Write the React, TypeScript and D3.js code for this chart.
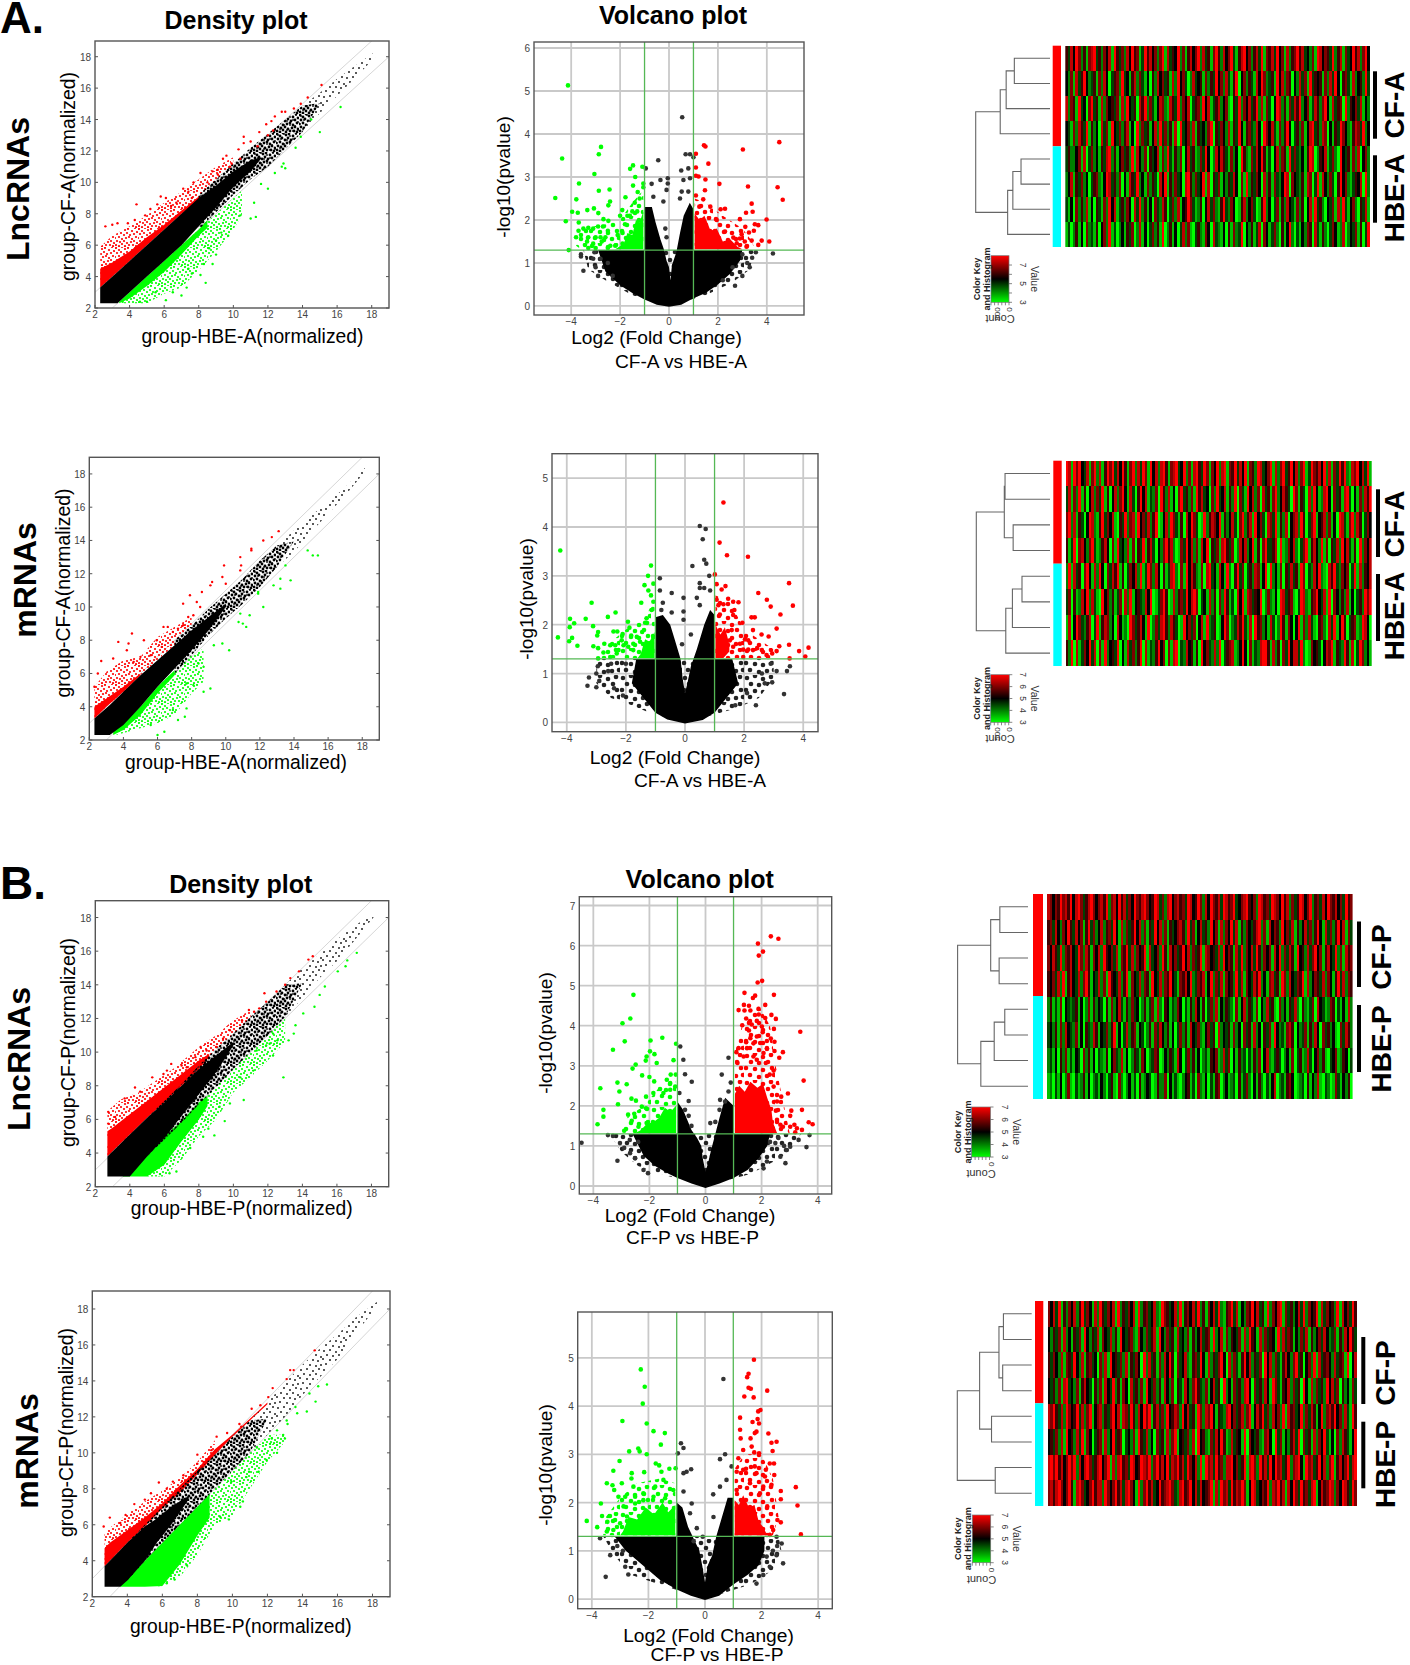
import React from 'react';
import * as d3 from 'd3';

type Pt = [number, number];
type Band = [number, number, number]; // x, low y, high y

const DENSITY_TICKS = [2, 4, 6, 8, 10, 12, 14, 16, 18];
const VOLCANO_X_TICKS = [-4, -2, 0, 2, 4];

// ---- density plots: dense regions read as envelopes, outliers read one by one
const d1BlackCore: Band[] = [[2.3,2.3,3.3],[3.3,2.3,4.3],[4,3,5],[5,4,6],[6,5,7],[7,6,8],[8,7.2,9],[9,8.4,9.8],[10,9.7,10.7],[11,10.7,11.4],[11.6,11.5,11.6]];
const d1BlackTail: Band[] = [[8,7,9.2],[9,8.1,10.2],[10,9.2,11.2],[11,10.2,12.2],[12,11,13.1],[13,12.1,14],[14,13.2,14.9],[15,14.4,15.7],[16,15.5,16.6],[17,16.6,17.4],[18.3,18.1,18.4]];
const d1RedDense: Band[] = [[2.3,3.3,4.5],[3,4,4.9],[4,5,5.6],[5,6,6.5],[6,7,7.3],[7,8,8.2],[8,8.9,9.1]];
const d1RedSparse: Band[] = [[2.3,3.3,5.9],[3,4,6.6],[4,5,7.2],[5,6,7.9],[6,7,8.7],[7,8,9.4],[8,8.9,10.2],[9,9.7,11],[10,10.9,11.6]];
const d1GreenDense: Band[] = [[3.4,2.3,2.4],[4,2.6,3],[5,3.4,4],[6,4.3,5],[7,5.4,6],[8,6.6,7],[8.5,7.1,7.6]];
const d1GreenSparse: Band[] = [[3.5,2.3,2.4],[5,2.3,4],[6,2.9,5],[7,3.3,6],[8,4.4,7],[9,5.6,8],[10,7,9],[10.5,7.9,9.5]];
const d1RedPts: Pt[] = [[2.6,7.2],[3,7.3],[3.3,7.4],[3.9,7.4],[4.3,7.6],[4.4,8.6],[4.9,7.9],[5.2,8.3],[5.6,8.6],[5.8,9.1],[6.1,9],[6.4,8.5],[6.7,8.7],[7.1,9.6],[7.4,9.4],[7.6,9],[7.7,10],[8.1,10.6],[8.5,10],[8.8,10.7],[9.1,10.5],[9.4,11.5],[9.6,11.7],[9.9,11.2],[10.3,12.1],[10.6,12.5],[10.6,12.9],[11,12.6],[11.5,13.2],[11.9,13.7],[12.2,13.9],[12.4,14.2],[12.8,14.5],[13,14.5],[13.5,14.7],[13.9,15],[14.3,15.4],[15.1,16.2],[9.1,10.8],[9.8,11],[10.4,11.5],[11.4,12.3],[12,13],[12.3,13.3]];
const d1GreenPts: Pt[] = [[3.6,2.4],[4.6,2.4],[5,2.4],[5.5,3],[6.1,2.5],[6.5,3],[7,2.8],[7.3,3.3],[7.4,4.5],[7.6,4.2],[8.4,3.6],[8.1,4.1],[8.3,4.8],[8.8,4.8],[9,5.4],[8.6,5.8],[9,6.3],[9.7,6.6],[9.3,6.8],[10.4,7.9],[11,7.7],[11.2,8.7],[11.3,7.8],[12,9.6],[11.6,9.9],[12.8,11],[12.9,11.2],[13.6,12.2],[13.9,12.9],[15,13.2],[14.5,14],[16.2,14.8],[13,10.9],[12.4,10.6]];

const d2BlackCore: Band[] = [[2.3,2.3,3.3],[3.2,2.3,4.1],[4,2.9,4.9],[5,4,5.9],[6,5.2,6.8],[7,6.3,7.7],[8,7.4,8.6],[9,8.6,9.4],[10,10,10.2]];
const d2BlackTail: Band[] = [[7,6,8],[8,7.1,8.9],[9,8.3,9.9],[10,9.3,10.8],[11,10.2,11.7],[12,11.2,12.8],[13,12.4,13.7],[14,13.3,14.6],[15,14.5,15.5],[16,15.6,16.3],[17,16.7,17.2],[18.3,18.3,18.5]];
const d2RedDense: Band[] = [[2.3,3.3,4],[3,4,4.5],[4,4.9,5.2],[5,5.9,6]];
const d2RedSparse: Band[] = [[2.3,3.3,5.2],[3,4,6.1],[4,4.9,6.8],[5,5.9,7],[6,6.8,8.2],[7,7.7,8.8],[8,8.6,9.4]];
const d2GreenDense: Band[] = [[3.4,2.3,2.5],[4,2.6,3],[5,3.5,4],[6,4.8,5.2],[7,5.9,6.2]];
const d2GreenSparse: Band[] = [[3.6,2.3,2.5],[5,2.7,4],[6,3,5.2],[7,3.5,6.2],[8,4.8,7.1],[8.7,5.5,7.5]];
const d2RedPts: Pt[] = [[13.1,14.56],[12.7,14.2],[12.2,14],[11.5,13.5],[10.85,13],[10.9,12.5],[9.9,12.5],[9.8,11.8],[9.2,11.5],[9.1,11.3],[10,11.4],[8.6,10.9],[7.9,10.7],[7.5,10.2],[8.3,10.3],[8.5,10],[6.35,8.8],[6.6,8.8],[7.2,8.7],[7.5,8.9],[4.5,8.4],[5.2,8],[3.7,7.9],[4.3,7.8],[2.7,6.75],[3.4,6.9],[5.95,8],[6.25,7.6],[6.9,8.5],[7.8,9.4],[8.1,9.5],[10.85,12.2],[11.5,13.4],[2.5,6],[2.3,5.2],[4.2,7.4],[4.6,6.7],[5,7],[5.6,7.1]];
const d2GreenPts: Pt[] = [[14.8,13.4],[15.1,13.1],[15.4,13.1],[13.8,11.6],[13.2,11.7],[12.8,11.3],[13.2,11.1],[13.5,12.5],[11.9,10.9],[12.2,10],[11.4,9.5],[11.2,8.8],[11,9],[10.75,9.1],[10.2,7.4],[9.8,7.8],[9.1,5.1],[8.7,4.9],[7.7,3.9],[7.6,3.4],[7.2,3.2],[6.4,2.5],[6,2.3],[8.1,5.3],[8.7,6.4],[8.4,6.6],[9.3,7.7],[10.85,9.6],[11.9,10.8],[6.9,3.8],[5.6,2.9],[5.4,4.2],[7.7,5.4]];

const d3BlackCore: Band[] = [[2.7,2.6,3.8],[3.7,2.6,4.8],[4,2.6,5.1],[5,3.8,6.1],[6,4.9,7],[7,6.2,8],[8,7.5,9],[9,8.8,9.8],[10,10.4,10.6]];
const d3BlackTail: Band[] = [[5,3.8,6.1],[6,4.8,7.1],[7,5.8,8.1],[8,6.9,9.2],[9,7.9,10.2],[10,9,11.1],[11,10,12.1],[12,11,13],[13,12.1,14],[14,13.2,15],[15,14.4,15.8],[16,15.4,16.7],[17,16.6,17.5],[18.2,18.1,18.3]];
const d3RedDense: Band[] = [[2.7,3.8,5.3],[3,4.1,5.5],[4,5.1,6.3],[5,6.1,7.1],[6,7,7.9],[7,8,8.7],[8,9,9.5],[8.6,9.7,9.9]];
const d3RedSparse: Band[] = [[2.7,3.8,6.5],[3.5,4.6,7.2],[4.5,5.6,7.6],[5.5,6.6,8.3],[6.5,7.6,9],[8,9,10.3],[9,10.2,11],[10,11,11.9],[11,12,12.5]];
const d3GreenDense: Band[] = [[3.6,2.6,2.7],[4,2.6,3.1],[5,2.6,3.9],[6,3.3,5],[7,4.7,5.9],[8,6,7],[8.5,6.8,7.4]];
const d3GreenSparse: Band[] = [[5,2.6,3.9],[6,2.6,4.9],[7,3.6,5.8],[8,5,7],[9,6,8],[10,7.6,9],[11,8.5,10.1],[12,9.5,11.1],[13,10.6,12]];
const d3RedPts: Pt[] = [[14.6,15.7],[14.35,15.5],[13.8,14.8],[13.3,14.4],[13,14],[12.5,13.6],[11.8,13.5],[11.9,13],[11.5,12.6],[10.9,12.5],[10.5,11.9],[9.8,11.3],[9.4,10.8],[8.1,10.3],[7.8,9.7],[6.4,9.3],[7,9.2],[5.3,8.5],[4.3,7.9],[3.7,7.25],[2.75,6.45],[2.75,5.75],[5.95,8.7],[4.6,7.65],[3.15,6.15],[7.3,9.1],[8.45,10.1],[9,10.3],[11.2,12.4],[6.15,8.9]];
const d3GreenPts: Pt[] = [[17.15,15.9],[16.6,15.45],[16.5,15.1],[16.05,14.8],[15.3,13.9],[15,13.4],[14.7,12.7],[14.05,12.3],[13.6,11.6],[13.5,11.1],[12.9,8.5],[13.2,10.7],[12.3,11.1],[12.55,10.7],[12.1,10.5],[11.9,10.4],[12.3,9.8],[11.35,10.1],[10.6,7.15],[9.5,5.9],[8.9,5.05],[8.25,4.97],[8.55,5.45],[7.5,4.3],[6.7,2.9],[6.3,2.8],[5.75,2.75],[11.15,8.9],[10.4,8.5],[9.8,6.95],[9.2,6.75]];

const d4BlackCore: Band[] = [[2.7,2.55,3.7],[3.6,2.55,4.6],[4,2.9,5],[5,4,5.9],[5.6,4.9,6.3],[6.5,6,7],[7.5,7.4,7.6]];
const d4BlackTail: Band[] = [[4,2.9,5],[5,4,6],[6,5,7],[7,6,8],[8,7,9],[9,8,9.9],[10,9,10.9],[11,10,11.8],[12,11,12.8],[13,12,13.9],[14,13.2,14.9],[15,14.2,15.8],[16,15.2,16.6],[17,16.6,17.5],[18.4,18.3,18.5]];
const d4RedDense: Band[] = [[2.7,3.7,4.7],[3,4,5],[4,5,5.7],[5,5.9,6.4],[6,6.9,7.2],[7,7.8,8.2],[8,8.8,9.1],[9,9.9,10.2],[10,10.9,11],[11,11.8,11.9],[12,12.7,12.8]];
const d4RedSparse: Band[] = [[2.7,3.7,5.6],[4,5,6.6],[5,5.9,7.3],[6,6.9,7.9],[7,7.8,8.6],[8,8.8,9.5],[9,9.9,10.7]];
const d4GreenDense: Band[] = [[3.6,2.55,2.7],[4,2.55,3],[5,2.55,4],[6,2.6,5],[7,3.8,6],[8,5.4,7],[8.7,6.4,7.7]];
const d4GreenSparse: Band[] = [[5.5,2.55,4.5],[6,2.6,5],[7,3.1,6],[8,4.3,7],[9,6,8],[10,6.5,9],[11,8,10],[12,9.5,11],[13,10.6,11]];
const d4RedPts: Pt[] = [[14.7,15.7],[13.5,14.6],[13.3,14.6],[13.1,14.1],[12.3,13.6],[12.05,13.1],[11.6,12.65],[11.1,12.45],[10.4,11.6],[9.7,11.1],[9.1,10.9],[8,9.9],[8,9.4],[5.8,8.35],[7.2,8.75],[5.35,7.75],[5,7.4],[4.4,7.15],[3,6.4],[2.65,5.9],[3.6,6.1],[3.9,6.55],[8.35,9.5],[8.8,10.15],[6.6,8.4],[10.5,11.45],[6.25,8]];
const d4GreenPts: Pt[] = [[15.4,13.8],[14.9,13.7],[14.4,13.3],[14.75,12.85],[14.25,12.3],[13.7,12.2],[13.6,12.55],[13.1,11.8],[13.15,11.6],[12.9,11],[13,10.8],[12.55,11.25],[12.25,10.8],[12.55,10],[12.15,10.5],[11.95,9.6],[11.5,8.95],[10.95,8.95],[10.6,7.3],[10.45,7],[9.8,6.3],[9.3,6.45],[7.4,3.75],[6.25,2.75],[6.7,2.95],[11.4,10.3],[10.8,8.65],[9.95,8.4]];

// ---- volcano plots
const v1Black: Pt[] = [[-2.9,1.3],[-2.6,.8],[-2,.48],[-1.5,.3],[-1,.15],[-.5,.03],[0,-.02],[.5,.03],[1,.18],[1.5,.3],[2,.5],[2.5,.75],[2.9,1.05],[3,1.3],[1,1.3],[1,2.25],[.85,2.4],[.6,2.1],[.45,1.7],[.3,1.25],[.12,.95],[.06,.6],[0,.9],[-.1,1.05],[-.2,1.3],[-.35,1.55],[-.55,1.95],[-.7,2.3],[-1,2.3],[-1,1.3]];
const v1BlackFringe: Pt[] = [[-3.5,1.3],[-3.3,.85],[-2.6,.6],[-1.5,.25],[0,0],[1.5,.25],[2.6,.55],[3.3,.85],[3.5,1.3]];
const v1RedDense: Pt[] = [[1.05,1.32],[1.05,2.15],[1.25,2],[1.45,2.1],[1.7,1.75],[1.95,1.8],[2.2,1.5],[2.5,1.55],[2.8,1.38],[3,1.32]];
const v1GreenDense: Pt[] = [[-1.05,1.32],[-1.05,2.2],[-1.2,1.95],[-1.35,2],[-1.5,1.65],[-1.7,1.7],[-1.85,1.45],[-2.2,1.32]];
const v1RedCloud: Pt[] = [[1.05,1.32],[1.05,2.5],[1.5,2.4],[2.2,2.1],[3,1.8],[3.4,1.5],[3.5,1.32]];
const v1GreenCloud: Pt[] = [[-1.05,1.32],[-1.05,2.7],[-1.5,2.4],[-2,2],[-2.6,1.9],[-3.6,1.8],[-3.8,1.4],[-3.6,1.32]];
const v1RedPts: Pt[] = [[4.51,3.81],[3.02,3.64],[1.43,3.74],[1.49,3.71],[1.61,3.31],[1.1,3.54],[1.1,3.22],[1.1,3.03],[1.21,3.01],[1.49,2.94],[2.06,2.84],[3.23,2.78],[4.44,2.76],[4.65,2.47],[1.47,2.69],[1.1,2.57],[1.4,2.48],[3.38,2.38],[2.29,2.26],[2.11,2.25],[3.15,2.17],[3.42,2.19],[1.69,2.31],[1.24,2.31],[2.9,2.02],[3.99,2.01],[1.95,2],[3.12,1.84],[3.51,1.9],[3.65,1.88],[2.29,1.73],[3.27,1.71],[3.47,1.75],[2.97,1.67],[3.79,1.52],[4.1,1.5],[3.65,1.42],[3.38,1.52],[2.63,1.59],[2.9,1.57],[3.1,1.5],[3.17,1.38],[2.77,1.46],[2.49,1.42]];
const v1GreenPts: Pt[] = [[-4.13,5.13],[-4.37,3.43],[-2.78,3.7],[-2.87,3.53],[-3.05,3.07],[-3.68,2.85],[-4.65,2.51],[-3.79,2.48],[-2.87,2.68],[-2.43,2.71],[-2.41,2.43],[-2.48,2.34],[-3.96,2.19],[-3.73,2.17],[-3.34,2.23],[-3.07,2.27],[-2.89,2.16],[-4.22,1.97],[-3.69,1.94],[-2.68,2.02],[-2.48,1.98],[-1.78,2.53],[-1.91,2.23],[-1.47,3.27],[-1.09,3.24],[-1.59,3.19],[-1.38,3],[-1.47,2.8],[-1.05,2.85],[-1.28,2.65],[-1.05,2.76],[-4.1,1.3],[-3.7,1.75],[-3.5,1.8],[-3.3,1.82],[-3.1,1.8],[-2.9,1.85],[-2.7,1.85],[-2.5,1.75],[-3.8,1.6],[-3.6,1.65],[-3.3,1.6],[-3,1.6],[-2.8,1.6],[-2.6,1.6],[-3.35,1.5],[-3.1,1.45],[-2.75,1.5],[-3.3,1.35],[-3,1.35],[-2.4,1.4],[-2.1,1.65],[-2.2,1.4],[-1.9,1.7],[-1.8,1.9],[-2,2.1],[-1.7,2.1],[-1.5,2.2],[-1.6,2.1],[-1.3,2.2],[-1.4,2.4],[-1.2,2.5],[-1.7,1.5],[-1.9,1.45],[-2.5,1.35]];
const v1BlackPts: Pt[] = [[.54,4.39],[-.44,3.39],[.68,3.53],[.86,3.53],[.5,3.15],[.79,3.2],[1,3.46],[-.95,3.2],[-.05,2.97],[-.35,2.93],[.59,2.93],[.86,2.97],[-.05,2.85],[-.71,2.84],[-.1,2.7],[.52,2.66],[.79,2.66],[-.64,2.54],[-.23,2.43],[.45,2.5],[-3.6,1.2],[-3.6,1.15],[-3.5,.82],[-3.1,1.1],[-3,.9],[-2.9,.7],[-3.05,1.25],[-2.8,1.1],[-2.5,1],[4.25,1.22],[3.4,1.12],[2.7,.47],[3,.7],[3.3,.9],[3.55,1.25],[3.2,1],[3,1.2],[2.6,.9],[2.2,.6],[-2.3,.7],[-.15,1.8],[-.1,1.6]];

const v2Black: Pt[] = [[-1.65,1.3],[-1.8,.8],[-1.4,.5],[-1,.2],[-.6,.06],[0,-.02],[.6,.05],[1,.2],[1.4,.5],[1.8,.8],[1.6,1.3],[1,1.3],[1,2.2],[.85,2.3],[.65,2],[.4,1.5],[.2,1.15],[.08,.8],[0,.6],[-.08,.9],[-.15,1.3],[-.35,1.7],[-.5,2],[-.75,2.2],[-1,2.15],[-1,1.3]];
const v2BlackFringe: Pt[] = [[-3,1.3],[-3,.8],[-2.5,.5],[-1.8,.35],[-1.2,.2],[0,0],[1.2,.2],[1.8,.3],[2.5,.5],[3,.9],[3,1.3]];
const v2RedDense: Pt[] = [[1.03,1.32],[1.03,2],[1.2,1.8],[1.35,1.95],[1.5,1.6],[1.5,1.45],[1.3,1.32]];
const v2GreenDense: Pt[] = [[-1.03,1.32],[-1.03,1.85],[-1.2,1.65],[-1.35,1.7],[-1.5,1.4],[-1.6,1.32]];
const v2RedCloud: Pt[] = [[1.03,1.32],[1.03,2.6],[1.5,2.5],[2,1.9],[3,1.5],[3,1.32]];
const v2GreenCloud: Pt[] = [[-1.03,1.32],[-1.03,2.5],[-1.4,2.1],[-2,1.9],[-2.6,1.6],[-2.9,1.32]];
const v2RedPts: Pt[] = [[1.3,4.5],[1.17,3.68],[1.42,3.42],[2.13,3.39],[3.52,2.85],[1.01,3.03],[1.37,2.79],[1.24,2.72],[1.07,2.83],[2.48,2.65],[2.77,2.51],[3.65,2.39],[2.9,2.37],[3.23,2.21],[2.25,2.15],[2.36,2.15],[2.3,1.89],[3.1,1.92],[2.59,1.8],[2.83,1.76],[3.52,1.59],[3.19,1.56],[3.1,1.46],[2.95,1.41],[2.76,1.38],[3.86,1.46],[4.18,1.53],[4.07,1.35],[3.54,1.31],[1.46,2.53],[1.63,2.47],[1.81,2.46],[1.07,2.51],[1.13,2.4],[1.3,2.42],[1.67,2.3],[1.63,2.2],[1.18,2.21],[1.94,2.04],[2.03,1.7],[2.14,1.68],[1.86,1.61],[2.14,1.49],[2.44,1.52],[2.6,1.48],[2.3,1.48],[1.97,1.49],[1.63,1.55],[1.52,1.68],[1.58,1.89],[1.97,1.34]];
const v2GreenPts: Pt[] = [[-4.22,3.52],[-4.3,1.74],[-3.89,2.12],[-3.75,2.03],[-3.9,1.95],[-3.82,1.73],[-3.92,1.66],[-3.64,1.57],[-3.36,2.12],[-3.16,2.45],[-3.11,1.97],[-2.94,1.85],[-2.97,1.78],[-3.1,1.56],[-2.94,1.52],[-2.76,1.43],[-2.94,1.31],[-2.61,2.16],[-2.35,2.25],[-2.42,1.86],[-2.29,1.86],[-2.11,1.81],[-1.93,2.06],[-1.88,1.94],[-2.73,1.61],[-2.53,1.58],[-2.36,1.58],[-2.14,1.68],[-2.08,1.58],[-2.25,1.48],[-2.31,1.41],[-2.53,1.34],[-1.82,1.78],[-1.63,1.75],[-1.48,2.45],[-1.3,2.13],[-1.35,2.04],[-1.45,1.85],[-1.15,3.21],[-1.25,3],[-1.37,2.81],[-1.07,2.84],[-1.24,2.7],[-1.15,2.6],[-1.07,2.47],[-1.13,2.3],[-1.75,1.61],[-1.52,1.65],[-1.75,1.48],[-1.92,1.55],[-1.3,1.58],[-1.07,1.75]];
const v2BlackPts: Pt[] = [[.5,4.02],[.7,3.96],[.6,3.75],[.65,3.33],[.25,3.2],[.72,3.25],[.82,3],[.5,2.85],[-.85,2.95],[-.85,2.7],[-.45,2.65],[-.05,2.55],[.4,2.55],[.5,2.75],[.65,2.75],[.85,2.7],[-.75,2.45],[-.8,2.3],[-.45,2.25],[-.05,2.27],[.5,2.4],[-.05,2.1],[.2,1.8],[-.1,1.6],[3.35,.58],[2.95,.82],[3.55,1.15],[3.45,1.05],[2.9,1.2],[-3.3,.75],[-3.25,.92],[-3,.72],[-2.9,.85],[-3,1],[-2.95,1.15],[-2.6,1.05],[-2.4,.7],[-2.1,.55],[-2.5,1.2],[-2,1.2],[2.4,.35],[2.1,.6],[1.7,.35],[2.6,1],[2.7,.8],[3.1,1.05]];

const v3Black: Pt[] = [[-2.6,1.3],[-2.2,.75],[-1.8,.5],[-1.3,.3],[-1,.2],[-.5,.06],[0,-.05],[.5,.06],[1,.2],[1.5,.4],[1.9,.7],[2.2,1],[2.3,1.3],[1,1.3],[1,2],[.7,2.2],[.5,1.7],[.35,1.3],[.2,.9],[.1,.6],[0,.35],[-.1,.7],[-.15,1],[-.3,1.2],[-.5,1.4],[-.8,1.9],[-1,2.1],[-1,1.3]];
const v3BlackFringe: Pt[] = [[-3.4,1.3],[-3,.85],[-2.4,.5],[-1.6,.3],[0,0],[1.6,.3],[2.4,.6],[3,.85],[3.4,1.3]];
const v3RedDense: Pt[] = [[1.05,1.32],[1.05,2.3],[1.2,2.5],[1.4,2.35],[1.6,2.6],[1.85,2.45],[2.05,2.55],[2.2,2.2],[2.35,1.9],[2.4,1.6],[2.55,1.32]];
const v3GreenDense: Pt[] = [[-1.05,1.32],[-1.05,2],[-1.25,1.85],[-1.45,1.95],[-1.65,1.7],[-1.85,1.6],[-2.1,1.55],[-2.3,1.4],[-2.5,1.32]];
const v3RedCloud: Pt[] = [[1.05,1.32],[1.05,3.3],[1.3,4],[1.9,4.5],[2.3,4],[2.5,3],[2.8,2],[3,1.32]];
const v3GreenCloud: Pt[] = [[-1.05,1.32],[-1.05,2.7],[-1.6,2.5],[-2.2,2],[-2.8,1.7],[-3,1.32]];
const v3RedPts: Pt[] = [[2.33,6.23],[2.6,6.17],[1.87,6.05],[2.05,5.85],[1.9,5.75],[2.02,5.12],[1.86,5.08],[1.39,4.82],[1.77,4.75],[1.69,4.69],[2.44,4.77],[2.13,4.52],[1.37,4.52],[1.55,4.5],[1.18,4.39],[1.39,4.38],[1.6,4.38],[1.89,4.42],[2.35,4.27],[2.51,4.17],[1.45,4.18],[1.9,4.28],[2.13,4.19],[1.83,4.12],[1.55,4.07],[1.31,4.01],[1.65,4.03],[2.01,3.98],[3.38,3.85],[2.44,3.92],[1.55,3.88],[2.04,3.84],[1.83,3.73],[1.6,3.69],[1.45,3.59],[2.33,3.68],[2.46,3.6],[2.19,3.62],[1.71,3.56],[1.95,3.57],[2.76,3.34],[2.46,3.37],[2.63,3.2],[2.19,3.44],[1.18,3.44],[1.1,3.34],[1.48,3.44],[2.07,3.32],[1.36,3.23],[1.71,3.23],[1.83,3.15],[2.15,3.07],[1.14,3.07],[2.43,2.88],[2.29,2.78],[3.5,2.63],[2.94,2.31],[2.7,2.23],[2.55,2.11],[2.51,1.88],[3.06,1.88],[3.44,1.9],[3.02,1.75],[3.68,1.59],[3.82,1.54],[3.17,1.53],[3.02,1.48],[3.44,1.4],[3.26,1.44],[2.76,1.48],[3.2,1.34],[2.55,1.65],[2.67,1.53],[2.43,2.48]];
const v3GreenPts: Pt[] = [[-2.57,4.77],[-2.68,4.18],[-2.96,4.06],[-2.88,3.61],[-3.3,3.4],[-1.96,3.63],[-1.54,3.7],[-1.05,3.55],[-1.98,3.36],[-1.82,3.29],[-2.1,3.23],[-2.13,3.13],[-2.49,3.03],[-2.6,2.93],[-1.74,3.07],[-1.14,3.14],[-2.26,2.76],[-2,2.72],[-1.83,2.61],[-3.14,2.58],[-2.81,2.54],[-3.75,2.44],[-3.07,2.36],[-3.12,2.04],[-2.64,2.18],[-2.48,2.13],[-3.64,1.9],[-3.64,1.73],[-3.85,1.54],[-2.9,1.38],[-2.76,1.78],[-2.54,1.8],[-2.63,1.63],[-2.27,1.98],[-2.12,1.94],[-2.12,2.23],[-1.86,2.32],[-1.62,2.42],[-1.38,2.65],[-1.24,2.78],[-1.06,2.78],[-1.5,2.32],[-1.26,2.4],[-1.08,2.48],[-1.26,2.57],[-2.39,1.48],[-2.1,1.57]];
const v3BlackPts: Pt[] = [[-.9,3.48],[-.79,3.15],[-.73,2.79],[-.49,2.6],[-.93,2.32],[-.6,2.12],[-.73,1.9],[.82,3.2],[.58,2.78],[.9,2.58],[.82,2.36],[.52,2.15],[.7,2.11],[.17,1.57],[-4.42,1.08],[-3.48,1.27],[-3.14,.63],[-3.05,1.07],[-2.69,.82],[-2.51,.69],[-2.21,.4],[-2.05,.32],[3.6,.97],[3.71,1.27],[2.85,.57],[2.67,.73],[3.02,.98],[3.32,1.15],[2.49,1.07],[2.9,.9],[2.07,.44],[2.19,.61],[-2.7,1.15],[-2.9,.95],[-2.4,1.1],[-3.3,1.25],[2.6,1.2],[2.8,1],[2.3,1.1],[-.6,1.75],[-.5,1.5],[.35,1.6],[.5,1.9]];

const v4Black: Pt[] = [[-3.2,1.3],[-2.8,1],[-2.2,.7],[-1.6,.4],[-1,.2],[-.5,.07],[0,-.02],[.5,.07],[1,.3],[1.5,.5],[1.9,.7],[2.1,1],[2.1,1.3],[1,1.3],[1,2.1],[.8,2.1],[.6,1.7],[.4,1.3],[.25,.9],[.1,.7],[0,.35],[-.1,.7],[-.2,1],[-.4,1.25],[-.6,1.5],[-.8,1.9],[-1,2],[-1,1.3]];
const v4BlackFringe: Pt[] = [[-3.6,1.3],[-3.2,.9],[-2.6,.5],[-1.6,.3],[0,0],[1.6,.3],[2.4,.6],[2.7,1],[2.6,1.3]];
const v4RedDense: Pt[] = [[1.05,1.32],[1.05,2.05],[1.2,1.95],[1.35,2.15],[1.55,1.9],[1.75,1.95],[1.9,1.6],[2.05,1.5],[2.2,1.32]];
const v4GreenDense: Pt[] = [[-1.05,1.32],[-1.05,1.95],[-1.3,1.8],[-1.5,2],[-1.8,1.75],[-2.1,1.9],[-2.4,1.65],[-2.7,1.7],[-2.9,1.4],[-3,1.32]];
const v4RedCloud: Pt[] = [[1.05,1.32],[1.05,2.7],[1.4,3],[2,3],[2.4,2.5],[2.6,1.7],[2.4,1.32]];
const v4GreenCloud: Pt[] = [[-1.05,1.32],[-1.05,2.4],[-1.6,2.5],[-2.4,2.4],[-3,2.1],[-3.5,1.7],[-3.6,1.32]];
const v4RedPts: Pt[] = [[1.73,4.96],[1.54,4.67],[1.49,4.6],[1.54,4.38],[1.62,4.36],[2.2,4.32],[1.39,4.2],[1.72,4.18],[1.96,3.92],[1.88,3.89],[1.24,3.76],[1.86,3.73],[1.68,3.67],[1.91,3.64],[1.24,3.51],[1.82,3.47],[1.76,3.44],[2.24,3.43],[1.26,3.33],[1.61,3.33],[2.53,3.26],[2.35,3.24],[1.65,3.16],[1.35,3.09],[2.39,3.07],[1.74,3.04],[1.91,3.02],[1.18,2.92],[2.29,2.81],[2.44,2.81],[1.45,2.7],[1.76,2.75],[2.15,2.68],[1.82,2.61],[2.12,2.54],[2.45,2.57],[3.21,2.32],[2.68,2.24],[3.27,1.94],[2.68,2.07],[2.2,1.92],[2.56,1.64],[2.68,1.59],[3.39,1.34],[2.41,1.43],[2.29,1.33],[1.35,2.68],[1.12,2.64],[2.06,2.33],[2.35,2.37],[1.94,2.19],[1.59,2.4],[1.12,2.26]];
const v4GreenPts: Pt[] = [[-2.27,4.76],[-2.13,4.4],[-2.2,4.05],[-2.92,3.69],[-2.06,3.64],[-1.82,3.48],[-1.42,3.44],[-1.56,3.2],[-2.36,3.12],[-2.31,3.06],[-2.68,3.06],[-2.06,3],[-3.02,2.86],[-1.74,2.81],[-1.62,2.77],[-3.24,2.66],[-2.15,2.63],[-2.59,2.61],[-1.26,2.7],[-1.04,2.71],[-1.54,2.64],[-2.6,2.5],[-3.47,2.4],[-3.27,2.36],[-2.94,2.4],[-3.68,1.98],[-4.18,1.62],[-3.64,1.72],[-3.81,1.49],[-3.45,1.6],[-3.36,1.72],[-3.47,1.4],[-3.21,2.26],[-3.06,2.12],[-2.82,2.12],[-2.88,1.92],[-2.47,2.12],[-2.18,2.19],[-1.76,2.33],[-1.47,2.47],[-1.12,2.26],[-2.53,2.33],[-3.24,1.43],[-3,1.57],[-3.18,1.64],[-2.76,1.71],[-2.47,1.98],[-2.18,2.05],[-1.82,2.12],[-1.41,2.09]];
const v4BlackPts: Pt[] = [[.65,4.56],[-.85,3.23],[-.76,3.13],[-.96,3.02],[.53,2.9],[.71,3],[.94,2.75],[-.76,2.61],[-.49,2.69],[-.65,2.64],[.29,2.17],[.53,2.33],[.76,2.47],[-.76,2.23],[-.47,1.98],[-.53,1.78],[-.29,1.47],[-.08,1.29],[-3.51,.46],[-3.35,.91],[-2.82,.67],[-2.71,.51],[-3.71,1.26],[2.76,.74],[2.53,.91],[2.29,.67],[2.06,.5],[2.71,1.15],[2.53,1.29],[2.18,.88],[1.82,.32],[-2.9,1],[-3.1,1.1],[2.4,1],[2.55,1.1],[-.4,1.2],[.3,1.7]];

// ---- heatmaps: each digit d is one stripe of value 3 + d / 2, estimated by eye
const h1Rows = [
  '5374862516 7835264718 5362748561 3857462681 7354826157 4682735168 5274683157 8462573816 5738461725 6857342618 7465382571 6348572684',
  '4261735842 3516274035 6283415726 3140527463 5172846302 7345162538 4627315804 6253174862 3518472650 4273618354 5162738405 6317245283',
  '7265183406 8351726453 6172843507 5826314762 1753826470 3562847135 7246105382 6473582716 3048725163 7582461375 2684173560 8254637142',
  '4316275381 5240736184 3625714082 6351472836 2517083462 7153426805 3642715384 1563274086 4731625840 3526147835 2760415386 4215763824',
  '3522461703 6241537825 1463528174 2605347162 8315260473 5126384027 4753162408 5216374851 3047265183 6324158702 5471362084 3516270462',
  '2471536240 3562148735 2604175382 4162530748 1526340785 2634817053 6142537406 1825364072 5163248706 4325176038 1742630584 6213547082',
  '3140625271 4053162847 1352640738 2514063275 0362714586 3125047362 1583264015 7246301582 4036152743 1625047183 5204361728 3146205371',
  '1302514062 3150462813 0241536027 1403625180 2514037261 0352164073 2140516238 0425137064 1362051482 0314265073 1520364127 0243615038',
];
const h2Rows = [
  '8718684371 6827158683 7485168273 8618472785 1678348261 7853861648 2781658374 8165287346 8172683584 7268138657 4827163858 2176847381',
  '3716281504 7263815047 2684173058 4713260852 7140683526 1857340628 3471528063 1847260735 1682475308 6153072841 2784063517 8304162758',
  '6827153048 7215836471 0538267184 6372580147 2863150748 6301825764 8152473068 2571846307 6381527046 7285036814 5726140873 1682750364',
  '5138067426 8312574061 8342716053 8157304268 5720163847 2617480536 1785360274 7248150683 3570812647 2036815742 8160537284 7315082647',
  '2817350684 1728406375 8150364728 1386274051 3782061847 5216078341 7418205836 0352761480 8241605373 5186032748 2107583264 6038172547',
  '3605127482 7310846251 3607281453 2748013685 0172563847 8603417250 6285130748 1763548026 2140873561 0387215684 3718064252 7140352868',
  '1704863257 0381576240 7412086357 4180263785 2753018463 6047182350 1486023758 3170856241 7302851640 4816273105 6207381485 0356128740',
  '5280713648 3706182453 8041736258 0713258460 6178032745 1508463272 8035671248 4061327885 1725063847 7382016453 0476815328 5170386241',
];
const h3Rows = [
  '7646586758 4786357864 6758267485 7364865786 4587362784 6756387458 6274865738 7568346785 4628756387 6485726358 7468256374 8657463856',
  '5637426485 3746158362 4725638417 2635847261 5384726153 4675283614 7352846172 6483715264 3578261746 5284637152 4736258417 3625847163',
  '6475382657 4386275164 7285463716 5837264581 7346285174 6358472635 8176453728 4651738264 7385264617 4826375184 5273684615 7438261756',
  '5463728157 4372685143 7261854372 5816437265 1843726584 3165748236 5714826371 6452837164 3758241673 5186274365 8172465372 6415837265',
  '2513160432 3514026152 4305162473 1526340251 3617205413 2640315274 1503627142 5320614725 3160427351 0624153720 5213607431 2650314172',
  '3425162743 2614053275 1436258140 3725614302 5163742514 0362517436 2146350724 3516240635 1724053618 4231675042 3615274063 5241063752',
  '2314052613 1430625140 3215046327 1402531640 2365014253 1740362514 0231546127 3604152303 1526047213 5302416035 1273046251 0346125403',
  '1203140261 0312514023 1420351062 0241305124 3015226041 3102451306 2140315602 4123051362 0415203147 0231564012 3051427103 2016314250',
];
const h4Rows = [
  '6473815264 7258364172 8536471825 3647182563 4721865347 2815647382 5164738215 6837142658 4735182647 8163524738 2645817364 5281746385',
  '4253617241 5361842537 1643725184 3562174263 5718426351 7342615247 3561824716 2543617285 4172635418 2736514263 7152463742 3615274853',
  '5364271653 8427156340 6271845362 7153640827 3516274850 6347215638 4172536840 7263158472 5360847263 1574268350 4628173564 2735618047',
  '4352617834 2615743052 6174382516 4073526184 3625174260 5317426853 2614735082 4163527840 6352741863 1547263508 4172635284 7360524163',
  '7685372864 5837268146 7253684717 6385274868 1573628457 6284735186 2768415327 8463572681 4758362746 2817563482 6375148267 5846273185',
  '4536271845 2738164035 6172483560 3426185372 4063517268 1453627084 5216374851 2735418064 3521674083 6142573806 3517264831 4062753148',
  '7868574686 8274786357 8468172785 6387458768 2685748376 8573864728 1867385627 7846358178 6285738486 7358267841 8673584726 8157468378',
  '6757864685 1786346857 7286468573 7864182685 7348567863 2785684737 4568172867 3857686148 7346582768 5717486385 6378147568 7264875386',
];

const KEY_TICKS = [3, 4, 5, 6, 7];

// dendrograms: a node is [merge height, child, child], a leaf is null
type Den = null | [number, Den, Den];
const h1Tree: Den = [1, [.67, [.59, [.48, null, null], null], null], [.57, [.5, [.39, null, null], null], null]];
const h2Tree: Den = [1, [.62, [.61, null, null], [.5, null, null]], [.6, [.51, [.38, null, null], null], null]];
const h3Tree: Den = [1, [.53, [.4, null, null], [.41, null, null]], [.67, [.48, [.33, null, null], null], null]];
const h4Tree: Den = [1, [.7, [.44, [.38, null, null], [.39, null, null]], [.54, null, null]], [.49, null, null]];

// stipple tiles for the regions where single points can't be told apart
const DOTS_FINE: Pt[] = [[1,1],[4,3],[7,0],[10,2],[13,1],[17,3],[20,0],[22,4],[2,6],[6,5],[9,7],[12,5],[15,7],[19,6],[0,10],[4,9],[7,11],[11,10],[14,9],[17,11],[21,9],[2,13],[5,14],[9,13],[12,15],[16,14],[19,13],[22,15],[1,17],[4,18],[7,16],[10,18],[14,17],[18,17],[21,18]];
const DOTS_OPEN: Pt[] = [[2,2],[8,1],[14,3],[20,1],[5,6],[11,7],[17,6],[22,8],[1,10],[8,11],[14,11],[19,12],[4,15],[11,16],[17,17],[22,16]];
const DOTS_BLOB: Pt[] = [[3,3],[11,1],[19,4],[27,2],[7,9],[15,10],[24,9],[2,15],[11,16],[19,17],[28,15],[6,22],[15,24],[23,23],[30,22]];

const heatColor = d3.scaleLinear<string>().domain([3, 5, 7]).range(['#00ff00', '#000000', '#ff0000']);
const FONT = '"Liberation Sans", Arial, sans-serif';

const Rot = ({ x, y, size, bold, children, fill = '#000' }: any) => (
  <text transform={`translate(${x},${y}) rotate(-90)`} textAnchor="middle" fontSize={size}
    fontWeight={bold ? 700 : 400} fill={fill}>{children}</text>
);
const Label = ({ x, y, size, bold, children }: any) => (
  <text x={x} y={y} textAnchor="middle" fontSize={size} fontWeight={bold ? 700 : 400}>{children}</text>
);

const Density = ({ id, box, black, tail, midEnd, redDense, redSparse, greenDense, greenSparse, redPts, greenPts, xText, yText, yLabelX, yLabelY, xLabelX, xLabelY }: any) => {
  const x = d3.scaleLinear().domain([2, 19]).range([box[0], box[1]]);
  const y = d3.scaleLinear().domain([2, 19]).range([box[3], box[2]]);
  const area = d3.area<Band>().x(d => x(d[0])).y0(d => y(d[1])).y1(d => y(d[2]));
  // the denser stipple stops in a point rather than a hard vertical edge
  const next: Band = tail.find((d: Band) => d[0] > midEnd);
  const mid: Band[] = [...tail.filter((d: Band) => d[0] <= midEnd), [next[0], (next[1] + next[2]) / 2, (next[1] + next[2]) / 2]];
  return (
    <g>
      <clipPath id={id}><rect x={box[0]} y={box[2]} width={box[1] - box[0]} height={box[3] - box[2]} /></clipPath>
      <g clipPath={`url(#${id})`}>
        {[1, -1].map(o => <line key={o} x1={x(2)} y1={y(2 + o)} x2={x(19)} y2={y(19 + o)} stroke="#ccc" strokeWidth={0.8} />)}
        <path d={area(redSparse)!} fill="url(#fine-red)" />
        <path d={area(greenSparse)!} fill="url(#fine-green)" />
        <path d={area(redDense)!} fill="#f00" />
        <path d={area(greenDense)!} fill="#0f0" />
        <path d={area(tail)!} fill="url(#open-black)" />
        <path d={area(mid)!} fill="url(#fine-black)" />
        <path d={area(black)!} fill="#000" />
        {redPts.map((d: Pt, i: number) => <circle key={i} cx={x(d[0])} cy={y(d[1])} r={1.2} fill="#f00" />)}
        {greenPts.map((d: Pt, i: number) => <circle key={i} cx={x(d[0])} cy={y(d[1])} r={1.2} fill="#0f0" />)}
      </g>
      <rect x={box[0]} y={box[2]} width={box[1] - box[0]} height={box[3] - box[2]} fill="none" stroke="#555" strokeWidth={1.4} />
      {DENSITY_TICKS.map(t => (
        <g key={t} fill="#444" fontSize={10}>
          <line x1={x(t)} x2={x(t)} y1={box[3]} y2={box[3] - 3} stroke="#555" />
          <line y1={y(t)} y2={y(t)} x1={box[0]} x2={box[0] + 3} stroke="#555" />
          <line y1={y(t)} y2={y(t)} x1={box[1]} x2={box[1] - 3} stroke="#555" />
          <text x={x(t)} y={box[3] + 10} textAnchor="middle">{t}</text>
          <text x={box[0] - 4} y={y(t) + 4} textAnchor="end">{t}</text>
        </g>
      ))}
      <Rot x={yLabelX} y={yLabelY} size={19.4}>{yText}</Rot>
      <Label x={xLabelX} y={xLabelY} size={19.3}>{xText}</Label>
    </g>
  );
};

const Volcano = ({ id, box, xDomain, yDomain, yTicks, black, fringe, redDense, greenDense, redCloud, greenCloud, redPts, greenPts, blackPts, sub, yLabelX, yLabelY, x1, y1, x2, y2 }: any) => {
  const x = d3.scaleLinear().domain(xDomain).range([box[0], box[1]]);
  const y = d3.scaleLinear().domain(yDomain).range([box[3], box[2]]);
  const line = d3.line<Pt>().x(d => x(d[0])).y(d => y(d[1]));
  const dot = (fill: string, list: Pt[]) => list.map((d, i) => <circle key={i} cx={x(d[0])} cy={y(d[1])} r={2.3} fill={fill} />);
  return (
    <g>
      <clipPath id={id}><rect x={box[0]} y={box[2]} width={box[1] - box[0]} height={box[3] - box[2]} /></clipPath>
      {VOLCANO_X_TICKS.map(t => <line key={t} x1={x(t)} x2={x(t)} y1={box[2]} y2={box[3]} stroke="#c9c9c9" strokeWidth={1.8} />)}
      {yTicks.map((t: number) => <line key={t} y1={y(t)} y2={y(t)} x1={box[0]} x2={box[1]} stroke="#c9c9c9" strokeWidth={1.8} />)}
      <g clipPath={`url(#${id})`}>
        <path d={line(fringe)! + 'Z'} fill="url(#blob-black)" />
        <path d={line(black)! + 'Z'} fill="#000" />
        {dot('#333', blackPts)}
        <path d={line(redCloud)! + 'Z'} fill="url(#blob-red)" />
        <path d={line(greenCloud)! + 'Z'} fill="url(#blob-green)" />
        <path d={line(redDense)! + 'Z'} fill="#f00" />
        <path d={line(greenDense)! + 'Z'} fill="#0f0" />
        {dot('#f00', redPts)}
        {dot('#0f0', greenPts)}
        {[-1, 1].map(t => <line key={t} x1={x(t)} x2={x(t)} y1={box[2]} y2={box[3]} stroke="#55b855" strokeWidth={1.3} />)}
        <line y1={y(1.3)} y2={y(1.3)} x1={box[0]} x2={box[1]} stroke="#55b855" strokeWidth={1.3} />
      </g>
      <rect x={box[0]} y={box[2]} width={box[1] - box[0]} height={box[3] - box[2]} fill="none" stroke="#555" strokeWidth={1.4} />
      {VOLCANO_X_TICKS.map(t => <text key={t} x={x(t)} y={box[3] + 10} textAnchor="middle" fontSize={10} fill="#444">{d3.format('d')(t).replace('-', '\u2212')}</text>)}
      {yTicks.map((t: number) => <text key={t} x={box[0] - 4} y={y(t) + 4} textAnchor="end" fontSize={10} fill="#444">{t}</text>)}
      <Rot x={yLabelX} y={yLabelY} size={19}>-log10(pvalue)</Rot>
      <Label x={x1} y={y1} size={19.2}>Log2 (Fold Change)</Label>
      <Label x={x2} y={y2} size={19.2}>{sub}</Label>
    </g>
  );
};

const Heatmap = ({ id, rows, tree, side, matrix, split, leafX, rootX, bars, barX, textX, names, nameY, colorKey, counts }: any) => {
  const rowY = d3.scaleBand<number>().domain(d3.range(rows.length)).range([matrix[2], matrix[3]]);
  const dist = d3.scaleLinear().domain([0, 1]).range([leafX, rootX]);
  const segs: string[] = [];
  let leaf = 0;
  const walk = (n: Den): [number, number] => {
    if (n === null) { const r = leaf++; return [rowY(r)! + rowY.bandwidth() / 2, 0]; }
    const [ya, ha] = walk(n[1]);
    const [yb, hb] = walk(n[2]);
    const xn = dist(n[0]);
    segs.push(`M${dist(ha)},${ya}H${xn}V${yb}H${dist(hb)}`);
    return [(ya + yb) / 2, n[0]];
  };
  walk(tree);
  const ky = d3.scaleLinear().domain([3, colorKey.max]).range([colorKey.y1, colorKey.y0]);
  const kc = d3.scaleLinear().domain([0, counts[counts.length - 1] || 1]).range([colorKey.x1, colorKey.x0 + 6]);
  const kcx = (colorKey.x0 + colorKey.x1) / 2;
  const kcy = (colorKey.y0 + colorKey.y1) / 2;
  return (
    <g>
      <path d={segs.join('')} fill="none" stroke="#666" strokeWidth={1.1} />
      <rect x={side[0]} width={side[1] - side[0]} y={matrix[2]} height={split - matrix[2]} fill="#f00" />
      <rect x={side[0]} width={side[1] - side[0]} y={split} height={matrix[3] - split} fill="#0ff" />
      <clipPath id={`${id}-clip`}><rect x={matrix[0]} y={matrix[2]} width={matrix[1] - matrix[0]} height={matrix[3] - matrix[2]} /></clipPath>
      <g clipPath={`url(#${id}-clip)`}>
        <g filter="url(#stripe-blur)" shapeRendering="crispEdges">
          {rows.map((row: string, r: number) => {
            const vals = Array.from(row.replace(/\s/g, ''), c => 3 + +c / 2);
            const cx = d3.scaleBand<number>().domain(d3.range(vals.length)).range([matrix[0], matrix[1]]);
            return vals.map((v, c) => (
              <rect key={`${r}-${c}`} x={cx(c)} y={rowY(r)} width={cx.bandwidth() + 0.4} height={rowY.bandwidth() + 0.4} fill={heatColor(v)} />
            ));
          })}
        </g>
      </g>
      {bars.map((b: number[], i: number) => <rect key={i} x={barX} width={4} y={b[0]} height={b[1] - b[0]} fill="#000" />)}
      {names.map((n: string, i: number) => <Rot key={n} x={textX} y={nameY[i]} size={28} bold>{n}</Rot>)}
      <linearGradient id={id} x1="0" x2="0" y1="1" y2="0">
        {[3, 4, 5, 6, 7].map(v => <stop key={v} offset={(v - 3) / 4} stopColor={heatColor(v)} />)}
      </linearGradient>
      <rect x={colorKey.x0} y={colorKey.y0} width={colorKey.x1 - colorKey.x0} height={colorKey.y1 - colorKey.y0} fill={`url(#${id})`} stroke="#777" strokeWidth={0.7} />
      {colorKey.labels.map((t: number) => (
        <text key={t} transform={`translate(${colorKey.x1 + 11},${ky(t)}) rotate(90)`} textAnchor="middle" fontSize={8.5} fill="#333">{t}</text>
      ))}
      {KEY_TICKS.map(t => <line key={t} x1={colorKey.x1} x2={colorKey.x1 + 3} y1={ky(t)} y2={ky(t)} stroke="#555" strokeWidth={0.7} />)}
      {d3.range(colorKey.x0, colorKey.x1 + 1, 3.6).map((t, i) => <line key={i} x1={t} x2={t} y1={colorKey.y1} y2={colorKey.y1 + 3} stroke="#555" strokeWidth={0.7} />)}
      <text transform={`translate(${colorKey.x1 + 22},${kcy}) rotate(90)`} textAnchor="middle" fontSize={10.5} fill="#333">Value</text>
      <Rot x={colorKey.x0 - 11} y={kcy} size={9} bold fill="#222">Color Key</Rot>
      <Rot x={colorKey.x0 - 1} y={kcy} size={9} bold fill="#222">and Histogram</Rot>
      <text transform={`translate(${kcx},${colorKey.y1 + 13}) rotate(180)`} textAnchor="middle" fontSize={11} fill="#333">Count</text>
      {counts.map((c: number) => (
        <text key={c} transform={`translate(${kc(c)},${colorKey.y1 + 5}) rotate(-90)`} textAnchor="end" fontSize={8} fill="#333" dy={3}>{c}</text>
      ))}
    </g>
  );
};

export default function App() {
  const patterns: [string, Pt[], string, number, number, number][] = [
    ['fine-black', DOTS_FINE, '#000', 1.4, 23, 19],
    ['open-black', DOTS_OPEN, '#222', 1, 23, 19],
    ['fine-red', DOTS_FINE, '#f00', 1.1, 23, 19],
    ['fine-green', DOTS_FINE, '#0f0', 1.1, 23, 19],
    ['blob-black', DOTS_BLOB, '#222', 2.3, 31, 27],
    ['blob-red', DOTS_BLOB, '#f00', 2.3, 31, 27],
    ['blob-green', DOTS_BLOB, '#0f0', 2.3, 31, 27],
  ];
  return (
    <svg width={1410} height={1665} style={{ position: 'absolute', left: 0, top: 0, fontFamily: FONT }}>
      <defs>
        {patterns.map(([id, dots, fill, r, w, h]) => (
          <pattern key={id} id={id} width={w} height={h} patternUnits="userSpaceOnUse">
            {dots.map((d, i) => <circle key={i} cx={d[0]} cy={d[1]} r={r} fill={fill} />)}
          </pattern>
        ))}
        <filter id="stripe-blur" x="0" y="0" width="1" height="1"><feGaussianBlur stdDeviation="0.6 0" /></filter>
      </defs>

      <Label x={22} y={33} size={44} bold>A.</Label>
      <Label x={23} y={899} size={46} bold>B.</Label>
      <Rot x={29} y={189} size={32} bold>LncRNAs</Rot>
      <Rot x={36} y={580} size={32} bold>mRNAs</Rot>
      <Rot x={30} y={1059} size={32} bold>LncRNAs</Rot>
      <Rot x={38} y={1451} size={32} bold>mRNAs</Rot>
      <Label x={236} y={29} size={25} bold>Density plot</Label>
      <Label x={673} y={24} size={25} bold>Volcano plot</Label>
      <Label x={240.7} y={893} size={25} bold>Density plot</Label>
      <Label x={699.7} y={888} size={25} bold>Volcano plot</Label>

      <Density id="d1" box={[95, 389, 41, 308]} black={d1BlackCore} tail={d1BlackTail} midEnd={14} redDense={d1RedDense} redSparse={d1RedSparse} greenDense={d1GreenDense} greenSparse={d1GreenSparse} redPts={d1RedPts} greenPts={d1GreenPts}
        yText="group-CF-A(normalized)" xText="group-HBE-A(normalized)" yLabelX={75} yLabelY={176.5} xLabelX={252.5} xLabelY={342.5} />
      <Density id="d2" box={[89.3, 379.3, 457.3, 740]} black={d2BlackCore} tail={d2BlackTail} midEnd={13} redDense={d2RedDense} redSparse={d2RedSparse} greenDense={d2GreenDense} greenSparse={d2GreenSparse} redPts={d2RedPts} greenPts={d2GreenPts}
        yText="group-CF-A(normalized)" xText="group-HBE-A(normalized)" yLabelX={70} yLabelY={593} xLabelX={236} xLabelY={769} />
      <Density id="d3" box={[95.3, 388.7, 900.7, 1186.7]} black={d3BlackCore} tail={d3BlackTail} midEnd={13} redDense={d3RedDense} redSparse={d3RedSparse} greenDense={d3GreenDense} greenSparse={d3GreenSparse} redPts={d3RedPts} greenPts={d3GreenPts}
        yText="group-CF-P(normalized)" xText="group-HBE-P(normalized)" yLabelX={75} yLabelY={1042.5} xLabelX={241.7} xLabelY={1215} />
      <Density id="d4" box={[92.3, 390, 1291, 1596.7]} black={d4BlackCore} tail={d4BlackTail} midEnd={11} redDense={d4RedDense} redSparse={d4RedSparse} greenDense={d4GreenDense} greenSparse={d4GreenSparse} redPts={d4RedPts} greenPts={d4GreenPts}
        yText="group-CF-P(normalized)" xText="group-HBE-P(normalized)" yLabelX={73.3} yLabelY={1432.5} xLabelX={240.8} xLabelY={1633} />

      <Volcano id="v1" box={[534, 804, 42, 315]} xDomain={[-5.52, 5.52]} yDomain={[-.21, 6.14]} yTicks={[0, 1, 2, 3, 4, 5, 6]} black={v1Black} fringe={v1BlackFringe} redDense={v1RedDense} greenDense={v1GreenDense} redCloud={v1RedCloud} greenCloud={v1GreenCloud} redPts={v1RedPts} greenPts={v1GreenPts} blackPts={v1BlackPts}
        sub="CF-A vs HBE-A" yLabelX={510} yLabelY={177} x1={656.5} y1={344} x2={681} y2={367.7} />
      <Volcano id="v2" box={[552, 818, 453.7, 731.7]} xDomain={[-4.5, 4.5]} yDomain={[-.19, 5.5]} yTicks={[0, 1, 2, 3, 4, 5]} black={v2Black} fringe={v2BlackFringe} redDense={v2RedDense} greenDense={v2GreenDense} redCloud={v2RedCloud} greenCloud={v2GreenCloud} redPts={v2RedPts} greenPts={v2GreenPts} blackPts={v2BlackPts}
        sub="CF-A vs HBE-A" yLabelX={533} yLabelY={599} x1={675} y1={764} x2={700} y2={787} />
      <Volcano id="v3" box={[579.3, 831.7, 896.7, 1194]} xDomain={[-4.5, 4.5]} yDomain={[-.2, 7.22]} yTicks={[0, 1, 2, 3, 4, 5, 6, 7]} black={v3Black} fringe={v3BlackFringe} redDense={v3RedDense} greenDense={v3GreenDense} redCloud={v3RedCloud} greenCloud={v3GreenCloud} redPts={v3RedPts} greenPts={v3GreenPts} blackPts={v3BlackPts}
        sub="CF-P vs HBE-P" yLabelX={551.7} yLabelY={1033} x1={690} y1={1221.7} x2={692.5} y2={1244} />
      <Volcano id="v4" box={[577.7, 832.3, 1312, 1608.7]} xDomain={[-4.5, 4.5]} yDomain={[-.2, 5.95]} yTicks={[0, 1, 2, 3, 4, 5]} black={v4Black} fringe={v4BlackFringe} redDense={v4RedDense} greenDense={v4GreenDense} redCloud={v4RedCloud} greenCloud={v4GreenCloud} redPts={v4RedPts} greenPts={v4GreenPts} blackPts={v4BlackPts}
        sub="CF-P vs HBE-P" yLabelX={551.7} yLabelY={1465} x1={708.5} y1={1641.7} x2={717} y2={1660.5} />

      <Heatmap id="k1" rows={h1Rows} tree={h1Tree} side={[1052.7, 1061]} matrix={[1065.3, 1370, 45.7, 247]} split={146.3} leafX={1050} rootX={975.7}
        bars={[[71.3, 138.7], [155.3, 222.7]]} barX={1373} textX={1404} names={['CF-A', 'HBE-A']} nameY={[105, 198]}
        colorKey={{ x0: 991, x1: 1009, y0: 255.7, y1: 302.3, max: 8, labels: [3, 5, 7] }} counts={[0, 800]} />
      <Heatmap id="k2" rows={h2Rows} tree={h2Tree} side={[1053.3, 1061.7]} matrix={[1065.7, 1371.7, 460.7, 666]} split={563.7} leafX={1050} rootX={976.3}
        bars={[[489.3, 557], [574, 641]]} barX={1376} textX={1404} names={['CF-A', 'HBE-A']} nameY={[524, 616]}
        colorKey={{ x0: 990.7, x1: 1009.3, y0: 674.7, y1: 722.3, max: 7, labels: [3, 4, 5, 6, 7] }} counts={[0, 500]} />
      <Heatmap id="k3" rows={h3Rows} tree={h3Tree} side={[1033, 1043]} matrix={[1047, 1352.6, 894, 1099]} split={996} leafX={1028} rootX={957.6}
        bars={[[921.5, 987], [1005, 1072]]} barX={1357} textX={1391} names={['CF-P', 'HBE-P']} nameY={[957, 1049]}
        colorKey={{ x0: 971.5, x1: 990.5, y0: 1107, y1: 1157, max: 7, labels: [3, 4, 5, 6, 7] }} counts={[0]} />
      <Heatmap id="k4" rows={h4Rows} tree={h4Tree} side={[1035, 1043.3]} matrix={[1047.7, 1357, 1301, 1506]} split={1403.3} leafX={1031.7} rootX={957.3}
        bars={[[1337, 1404], [1421.7, 1488.3]]} barX={1361.3} textX={1395} names={['CF-P', 'HBE-P']} nameY={[1373, 1464.5]}
        colorKey={{ x0: 972.3, x1: 990.7, y0: 1515, y1: 1562.7, max: 7, labels: [3, 4, 5, 6, 7] }} counts={[0]} />
    </svg>
  );
}
